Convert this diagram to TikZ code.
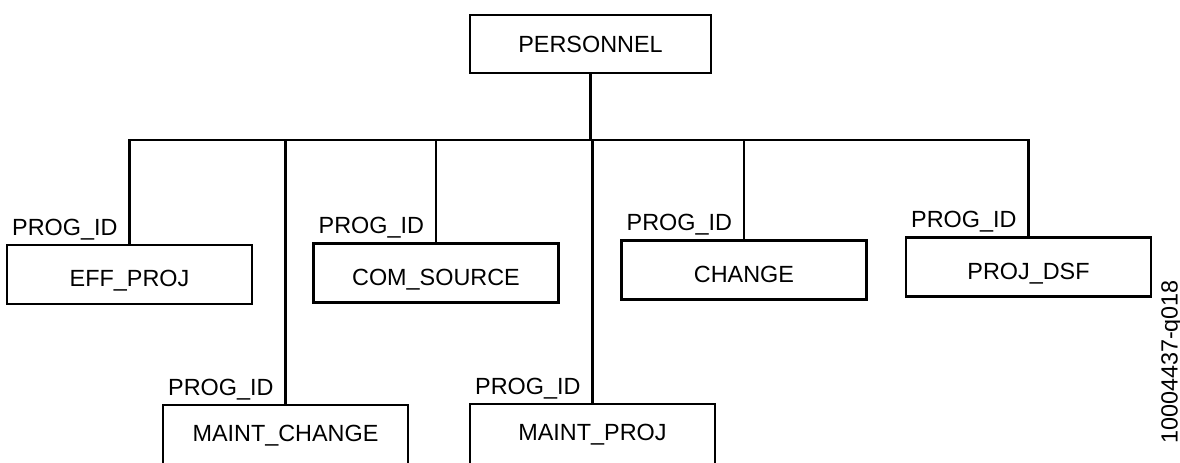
\documentclass[tikz,border=0pt]{standalone}
\usepackage{fontspec}
\setmainfont{Liberation Sans}
\begin{document}
\begin{tikzpicture}[x=0.5pt,y=-0.5pt,
  every node/.style={font=\fontsize{11.7}{14}\selectfont, inner sep=0pt, outer sep=0pt},
  entity/.style={draw, line width=1.4pt, minimum width=122.5pt, minimum height=29.5pt},
  lowtext/.style={text height=14pt, text depth=2pt},
  keylabel/.style={anchor=base east},
  link/.style={line width=1.15pt}]
\useasboundingbox (0,0) rectangle (1180,462);

% root record
\node[entity, minimum width=120.5pt, minimum height=29pt] (pers) at (590.5,44) {PERSONNEL};

% dependent records
\node[entity, lowtext] (eff)   at (129.5,274.5) {EFF\_PROJ};
\node[entity, lowtext] (com)   at (436,273)     {COM\_SOURCE};
\node[entity, lowtext] (chg)   at (744,270)     {CHANGE};
\node[entity, lowtext] (dsf)   at (1028.5,267)  {PROJ\_DSF};
\node[entity, minimum height=31pt] (mchg)  at (285.5,436) {MAINT\_CHANGE};
\node[entity, minimum height=31pt] (mproj) at (592.5,435) {MAINT\_PROJ};

% shared bus
\coordinate (bus) at (0,140);
\draw[link] (eff.north) -- (eff.north |- bus) -- (dsf.north |- bus) -- (dsf.north);
\draw[link] (pers.south) -- (pers.south |- bus);
\foreach \n in {com, chg, mchg, mproj}
  \draw[link] (\n.north) -- (\n.north |- bus);

% key field labels
\foreach \n/\m in {eff/lEff, com/lCom, chg/lChg, dsf/lDsf, mchg/lMchg, mproj/lMproj}
  \node[keylabel] (\m) at ([xshift=-6pt,yshift=5pt]\n.north) {PROG\_ID};

% figure number
\node[rotate=90] (fignum) at (1172,362) {10004437-q018};
\end{tikzpicture}
\end{document}
